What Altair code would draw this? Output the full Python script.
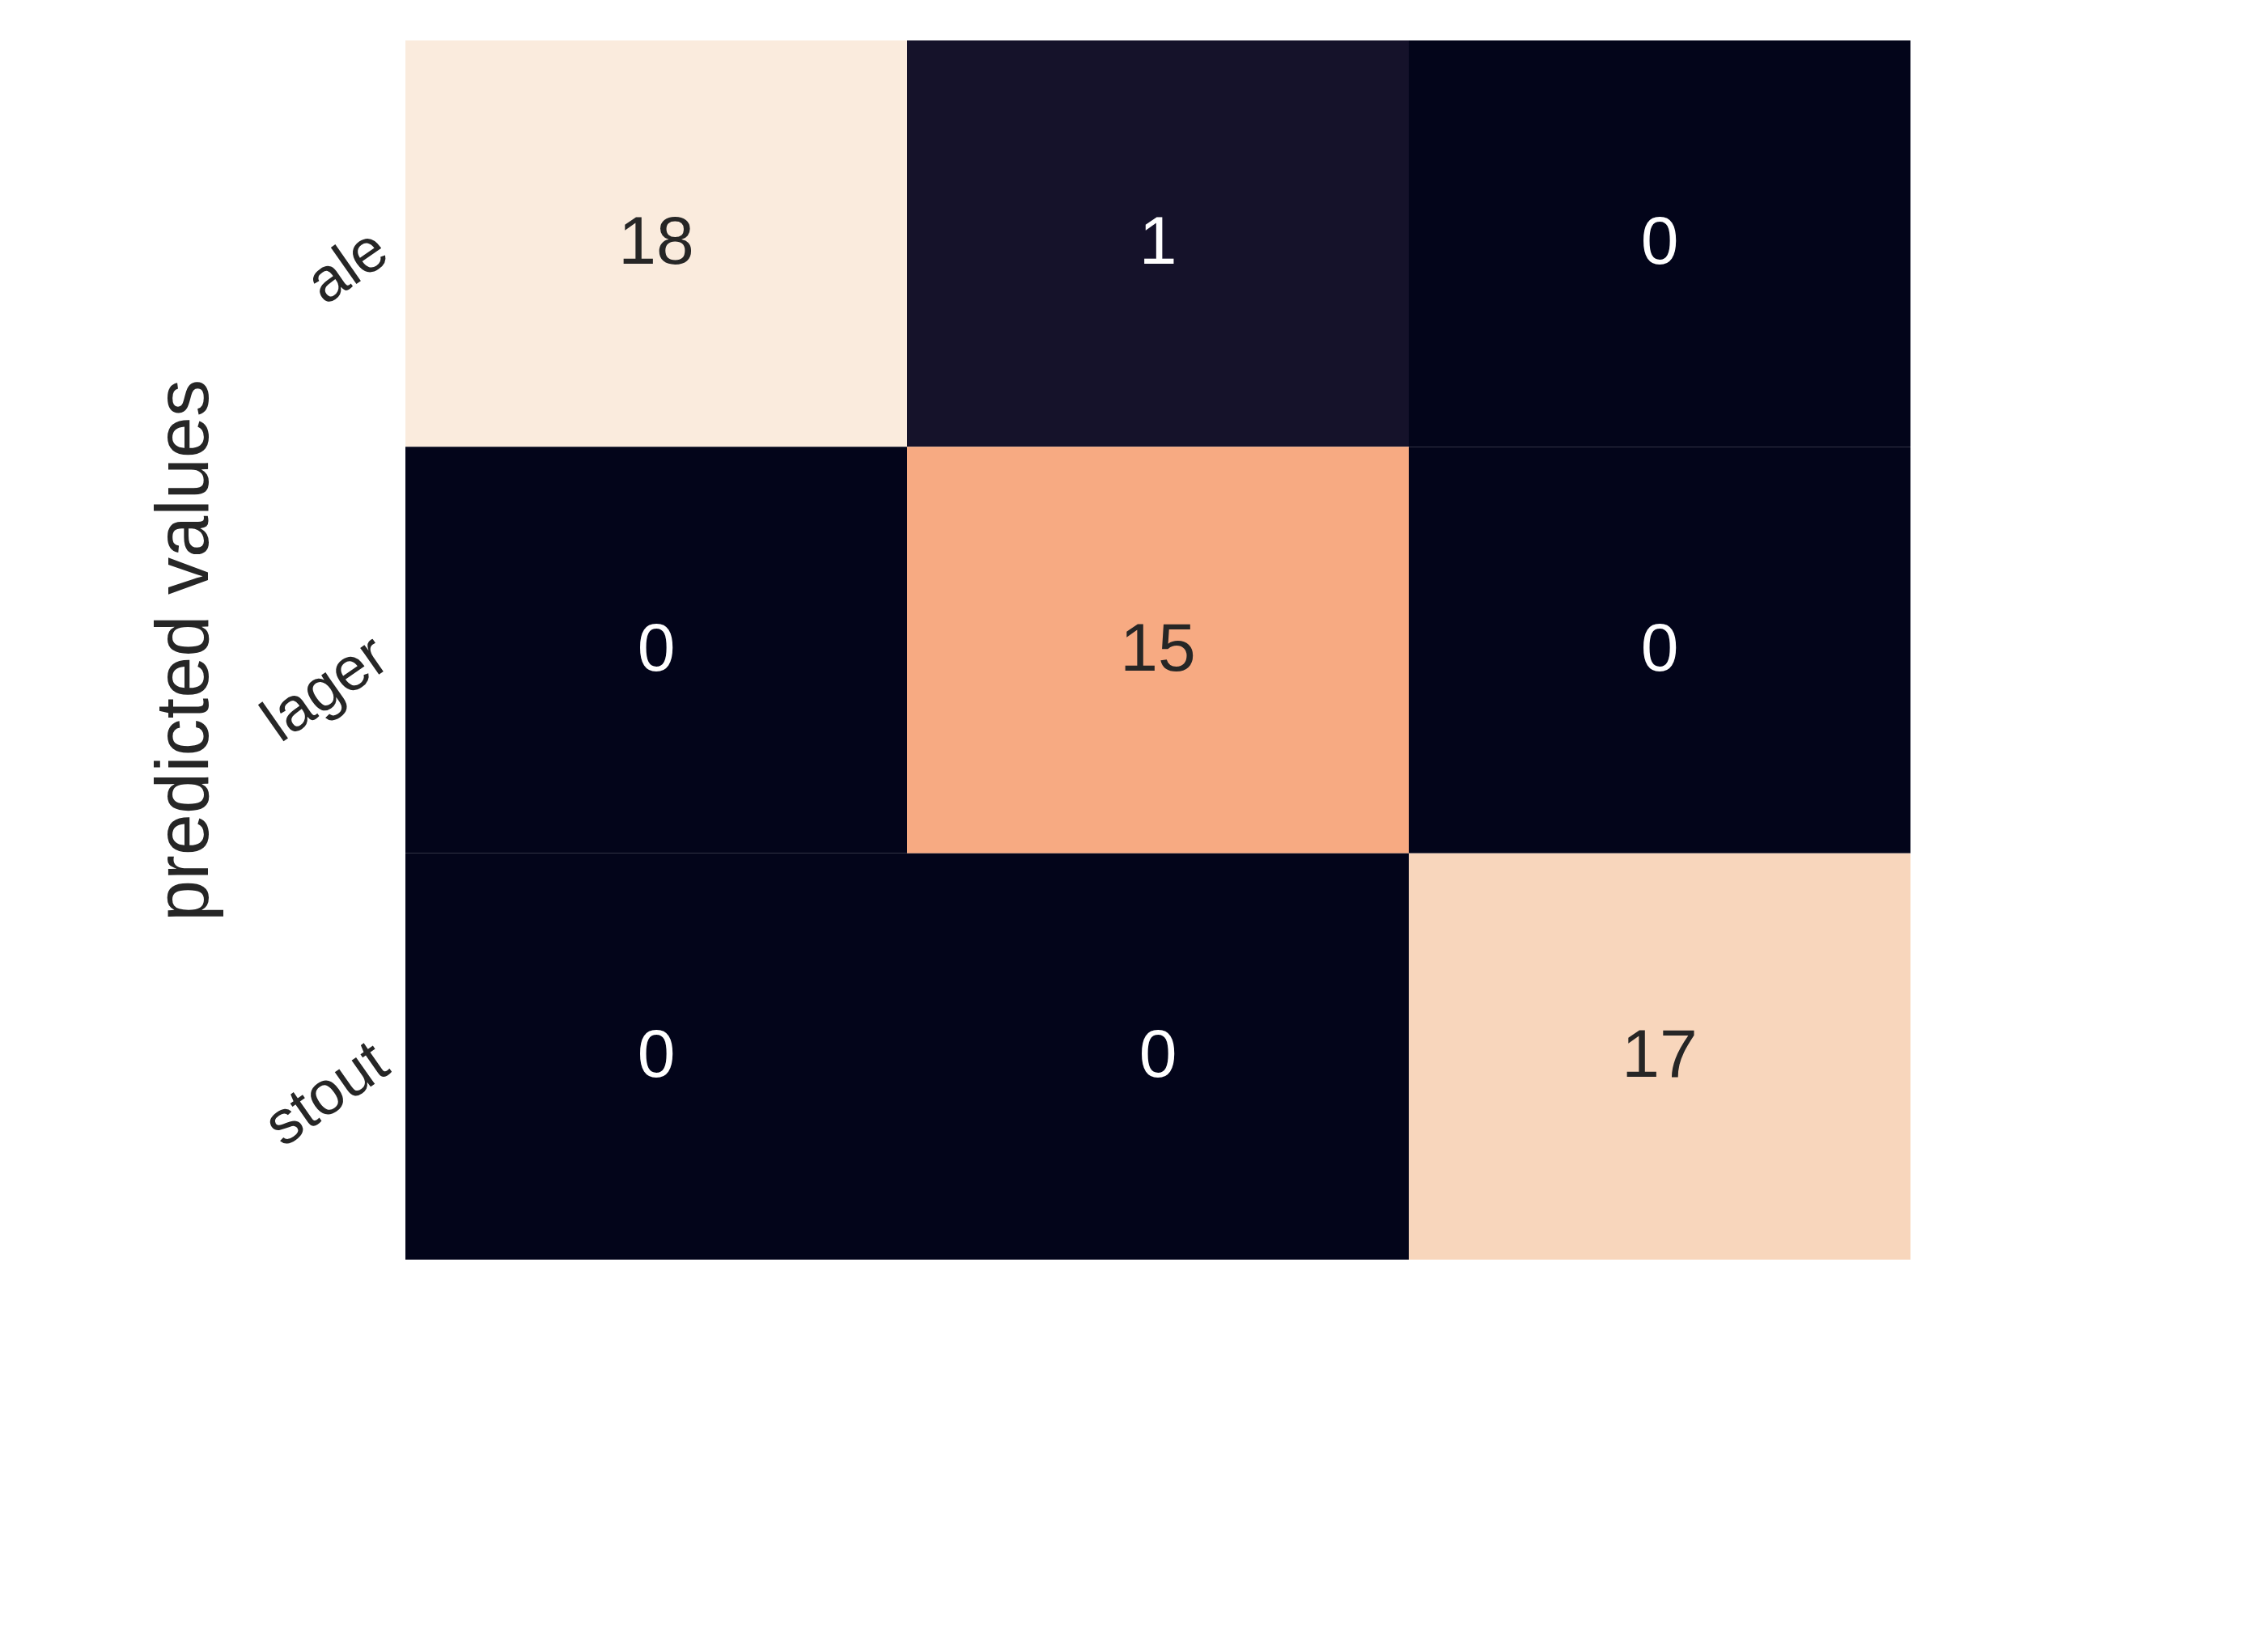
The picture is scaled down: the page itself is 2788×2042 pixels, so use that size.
import altair as alt
import pandas as pd

classes = ["ale", "lager", "stout"]
predicted = ["ale", "ale", "ale", "lager", "lager", "lager", "stout", "stout", "stout"]
actual = ["ale", "lager", "stout"] * 3
counts = [18, 1, 0, 0, 15, 0, 0, 0, 17]

df = pd.DataFrame({"pred": predicted, "act": actual, "n": counts})
rocket = ["#03051a", "#4c1d4b", "#a11a5b", "#e83f3f", "#f69c73", "#faebdd"]
F = "Liberation Sans"
C = "#262626"

base = alt.Chart(df).encode(
    x=alt.X("act:N", sort=classes, title="actual values",
            axis=alt.Axis(labelAngle=-45, labelFontSize=76, titleFontSize=92, labelFont=F, titleFont=F,
                          titleFontWeight="normal", ticks=False, domain=False, labelPadding=30, titlePadding=25,
                          labelColor=C, titleColor=C, labelAlign="right", labelBaseline="middle")),
    y=alt.Y("pred:N", sort=classes, title="predicted values",
            axis=alt.Axis(labelAngle=-35, labelFontSize=76, titleFontSize=92, labelFont=F, titleFont=F,
                          titleFontWeight="normal", ticks=False, domain=False, labelPadding=30, titlePadding=35,
                          labelColor=C, titleColor=C)),
)
rect = base.mark_rect().encode(
    color=alt.Color("n:Q", scale=alt.Scale(domain=[0, 18], range=rocket),
                    legend=alt.Legend(title=None, gradientLength=1507, gradientThickness=71,
                                      values=[0, 5, 10, 15], format="d", labelFontSize=80, labelFont=F,
                                      labelExpr="'– ' + datum.label",
                                      labelColor=C, offset=120, labelOffset=0))
)
text = base.mark_text(fontSize=84, font=F).encode(
    text="n:Q",
    color=alt.condition(alt.datum.n > 9, alt.value(C), alt.value("white")),
)
chart = (rect + text).properties(
    width=1860, height=1507,
    autosize=alt.AutoSizeParams(type="none"),
    padding={"left": 493, "top": 42, "right": 0, "bottom": 0},
).configure_view(stroke=None).configure_scale(bandPaddingInner=0)
chart.save("out.html", embed_options={"renderer": "svg", "actions": False})
